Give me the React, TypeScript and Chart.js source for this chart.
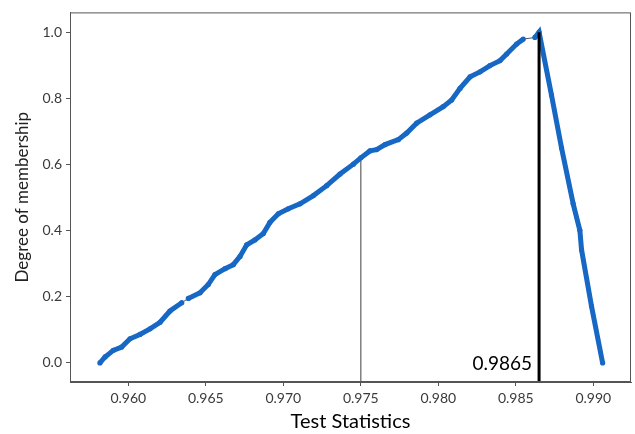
import { useEffect, useRef } from 'react';
import { Chart, registerables } from 'chart.js';

Chart.register(...registerables);

// Membership curve (test statistic vs degree of membership)
const TEST_STAT = [
  0.95817, 0.9585, 0.95903, 0.95957, 0.96011, 0.96075, 0.9614, 0.96205, 0.96269, 0.96345,
  0.96387, 0.96463, 0.96516, 0.96559, 0.96624, 0.96677, 0.96721, 0.96764, 0.96817, 0.96871,
  0.96914, 0.96968, 0.97032, 0.97108, 0.97194, 0.9728, 0.97366, 0.97452, 0.975, 0.97559,
  0.97602, 0.97656, 0.97742, 0.97796, 0.9786, 0.97946, 0.98032, 0.98086, 0.9814, 0.98205,
  0.98269, 0.98333, 0.98398, 0.98441, 0.98505, 0.98548, 0.98623, 0.9865,
  0.9873, 0.98795, 0.9887, 0.98913, 0.98924, 0.98988, 0.9906,
];
const MEMBERSHIP = [
  0.0, 0.018, 0.038, 0.048, 0.073, 0.086, 0.103, 0.123, 0.157, 0.182,
  0.195, 0.212, 0.237, 0.267, 0.285, 0.297, 0.322, 0.357, 0.372, 0.391,
  0.425, 0.451, 0.466, 0.481, 0.506, 0.536, 0.571, 0.601, 0.62, 0.641,
  0.645, 0.66, 0.675, 0.695, 0.725, 0.75, 0.775, 0.795, 0.83, 0.865,
  0.88, 0.899, 0.914, 0.934, 0.964, 0.979, 0.984, 1.0,
  0.81, 0.65, 0.481, 0.401, 0.342, 0.172, 0.0,
];
// x values after which the marker trail has a visible gap
const GAP_STARTS = [0.96345, 0.98548];

const X_TICKS = [0.96, 0.965, 0.97, 0.975, 0.98, 0.985, 0.99];
const Y_TICKS = [0, 0.2, 0.4, 0.6, 0.8, 1.0];
const X_MIN = 0.95624;
const X_MAX = 0.99243;
const Y_MIN = -0.0577;
const Y_MAX = 1.0598;

const CUT_X = 0.975;
const CUT_Y = 0.62;
const PEAK_X = 0.9865;
const PEAK_Y = 1.0;
const PEAK_LABEL = '0.9865';

const BLUE = '#1767c4';
const FONT = 'Lato, "Open Sans", sans-serif';

export default function App() {
  const ref = useRef<HTMLCanvasElement | null>(null);

  useEffect(() => {
    document.body.style.margin = '0';
    const canvas = ref.current;
    if (!canvas) return;

    const frame = {
      id: 'frame',
      afterDraw(chart: any) {
        const { ctx, chartArea } = chart;
        ctx.save();
        ctx.strokeStyle = '#555';
        ctx.lineWidth = 1;
        ctx.strokeRect(chartArea.left + 0.5, chartArea.top + 0.5, chartArea.right - chartArea.left - 1, chartArea.bottom - chartArea.top - 1);
        ctx.restore();
      },
      afterDatasetsDraw(chart: any) {
        const { ctx } = chart;
        const xs = chart.scales.x;
        const ys = chart.scales.y;
        ctx.save();
        ctx.font = '19px ' + FONT;
        ctx.fillStyle = '#000';
        ctx.textAlign = 'right';
        ctx.textBaseline = 'middle';
        ctx.fillText(PEAK_LABEL, xs.getPixelForValue(PEAK_X) - 7, ys.getPixelForValue(0) + 1);
        ctx.restore();
      },
    };

    const isGap = (x: number) => GAP_STARTS.some((g) => Math.abs(g - x) < 1e-9);

    const chart = new Chart(canvas, {
      type: 'line',
      data: {
        datasets: [
          {
            data: [
              { x: PEAK_X, y: Y_MIN },
              { x: PEAK_X, y: PEAK_Y },
            ],
            borderColor: '#000',
            borderWidth: 3,
            pointRadius: 0,
            order: 0,
          },
          {
            data: TEST_STAT.map((x, i) => ({ x, y: MEMBERSHIP[i] })),
            borderColor: BLUE,
            borderWidth: 5,
            pointRadius: 2.6,
            pointBackgroundColor: BLUE,
            pointBorderWidth: 0,
            tension: 0,
            order: 1,
            segment: {
              borderColor: (c: any) => (isGap(c.p0.parsed.x) ? '#555' : BLUE),
              borderWidth: (c: any) => (isGap(c.p0.parsed.x) ? 1 : 5),
            },
          },
          {
            data: [
              { x: CUT_X, y: Y_MIN },
              { x: CUT_X, y: CUT_Y },
            ],
            borderColor: '#6b6b6b',
            borderWidth: 1.3,
            pointRadius: 0,
            order: 2,
          },
        ],
      },
      options: {
        animation: false,
        responsive: false,
        devicePixelRatio: 1,
        layout: { padding: { top: 8, right: 4, left: 0, bottom: 0 } },
        plugins: { legend: { display: false }, tooltip: { enabled: false } },
        scales: {
          x: {
            type: 'linear',
            min: X_MIN,
            max: X_MAX,
            afterBuildTicks: (s: any) => {
              s.ticks = X_TICKS.map((v) => ({ value: v }));
            },
            afterFit: (s: any) => {
              s.height = 52;
            },
            ticks: {
              callback: (v: any) => Number(v).toFixed(3),
              font: { family: FONT, size: 14 },
              color: '#3a3a3a',
              padding: 4,
              maxRotation: 0,
            },
            grid: { display: true, drawOnChartArea: false, drawTicks: true, tickLength: 4, color: '#555' },
            border: { display: true, color: '#555' },
            title: {
              display: true,
              text: 'Test Statistics',
              font: { family: FONT, size: 20 },
              color: '#000',
              padding: { top: 0, bottom: 0 },
            },
          },
          y: {
            type: 'linear',
            min: Y_MIN,
            max: Y_MAX,
            afterBuildTicks: (s: any) => {
              s.ticks = Y_TICKS.map((v) => ({ value: v }));
            },
            afterFit: (s: any) => {
              s.width = 70;
            },
            ticks: {
              callback: (v: any) => Number(v).toFixed(1),
              font: { family: FONT, size: 14 },
              color: '#3a3a3a',
              padding: 4,
            },
            grid: { display: true, drawOnChartArea: false, drawTicks: true, tickLength: 4, color: '#555' },
            border: { display: true, color: '#555' },
            title: {
              display: true,
              text: 'Degree of membership',
              font: { family: FONT, size: 17 },
              color: '#222',
              padding: { top: 12, bottom: 0 },
            },
          },
        },
      },
      plugins: [frame],
    } as any);

    return () => chart.destroy();
  }, []);

  return (
    <div style={{ width: 635, height: 434 }}>
      <canvas ref={ref} width={635} height={434} style={{ display: 'block' }} />
    </div>
  );
}
